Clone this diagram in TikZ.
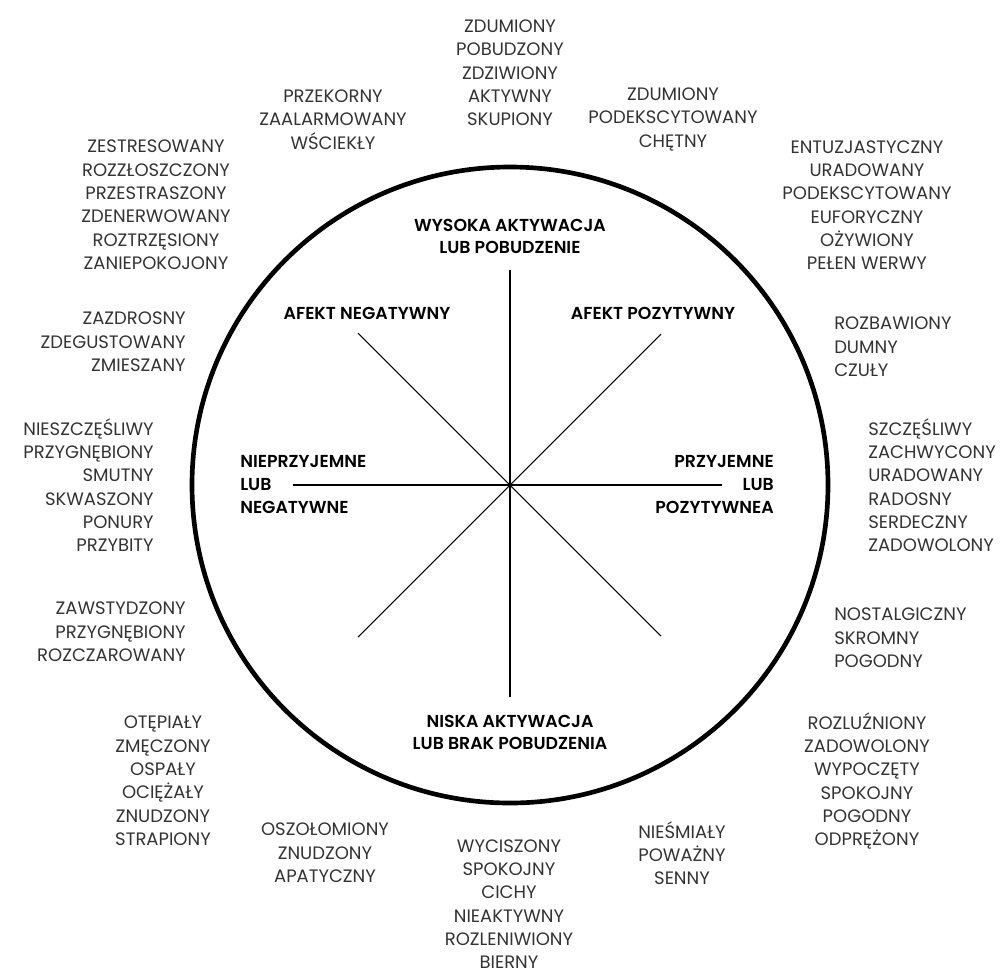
\documentclass[tikz,border=0pt]{standalone}
\usepackage{fontspec}
\setmainfont{Poppins}[BoldFont={Poppins SemiBold}]
\begin{document}
\begin{tikzpicture}[x=0.75pt,y=-0.75pt,
        word/.style={text=black!80,align=center,inner sep=0pt,font=\fontsize{13.5}{17.5}\selectfont},
        axislabel/.style={text=black,align=center,inner sep=0pt,font=\bfseries\fontsize{13}{17}\selectfont},
        axis/.style={line width=1.5pt},
        diag/.style={line width=0.8pt}]
    \useasboundingbox (0,0) rectangle (1008,976);
    \node[draw,circle,line width=3.5pt,minimum size=477pt,inner sep=0pt] (ring) at (510,485) {};
    \coordinate (hi) at (510,270);
    \coordinate (lo) at (510,697);
    \coordinate (lt) at (293,485);
    \coordinate (rt) at (722,485);
    \coordinate (ul) at (358,333);
    \coordinate (ur) at (661,334);
    \coordinate (ll) at (358,637);
    \coordinate (lr) at (661,636);
    \draw[axis] (hi) -- (lo);
    \draw[axis] (lt) -- (rt);
    \draw[diag] (ul) -- (lr);
    \draw[diag] (ur) -- (ll);
    \node[axislabel] (high) at (510,236.5) {WYSOKA AKTYWACJA\\LUB POBUDZENIE};
    \node[axislabel] (low) at (510,732.5) {NISKA AKTYWACJA\\LUB BRAK POBUDZENIA};
    \node[axislabel] (negaff) at (367,313) {AFEKT NEGATYWNY};
    \node[axislabel] (posaff) at (653,313) {AFEKT POZYTYWNY};
    \node[axislabel,align=left,anchor=west] (neg) at (240,484.5) {NIEPRZYJEMNE\\LUB\\NEGATYWNE};
    \node[axislabel,align=right,anchor=east] (pos) at (774,484.5) {PRZYJEMNE\\LUB\\POZYTYWNEA};
    \node[word] (alert) at (510,73) {ZDUMIONY\\POBUDZONY\\ZDZIWIONY\\AKTYWNY\\SKUPIONY};
    \node[word] (angry) at (333,119.5) {PRZEKORNY\\ZAALARMOWANY\\WŚCIEKŁY};
    \node[word] (eager) at (673,119.5) {ZDUMIONY\\PODEKSCYTOWANY\\CHĘTNY};
    \node[word] (stressed) at (156,205) {ZESTRESOWANY\\ROZZŁOSZCZONY\\PRZESTRASZONY\\ZDENERWOWANY\\ROZTRZĘSIONY\\ZANIEPOKOJONY};
    \node[word] (excited) at (867,205) {ENTUZJASTYCZNY\\URADOWANY\\PODEKSCYTOWANY\\EUFORYCZNY\\OŻYWIONY\\PEŁEN WERWY};
    \node[word,align=right,anchor=east] (jealous) at (186,342) {ZAZDROSNY\\ZDEGUSTOWANY\\ZMIESZANY};
    \node[word,align=left,anchor=west] (amused) at (834,347) {ROZBAWIONY\\DUMNY\\CZUŁY};
    \node[word,align=right,anchor=east] (sad) at (154,485) {NIESZCZĘŚLIWY\\PRZYGNĘBIONY\\SMUTNY\\SKWASZONY\\PONURY\\PRZYBITY};
    \node[word,align=left,anchor=west] (happy) at (868,485) {SZCZĘŚLIWY\\ZACHWYCONY\\URADOWANY\\RADOSNY\\SERDECZNY\\ZADOWOLONY};
    \node[word,align=right,anchor=east] (ashamed) at (186,632) {ZAWSTYDZONY\\PRZYGNĘBIONY\\ROZCZAROWANY};
    \node[word,align=left,anchor=west] (nostalgic) at (834,638) {NOSTALGICZNY\\SKROMNY\\POGODNY};
    \node[word] (tired) at (163,781) {OTĘPIAŁY\\ZMĘCZONY\\OSPAŁY\\OCIĘŻAŁY\\ZNUDZONY\\STRAPIONY};
    \node[word] (relaxed) at (867,781) {ROZLUŹNIONY\\ZADOWOLONY\\WYPOCZĘTY\\SPOKOJNY\\POGODNY\\ODPRĘŻONY};
    \node[word] (dazed) at (325,853) {OSZOŁOMIONY\\ZNUDZONY\\APATYCZNY};
    \node[word] (shy) at (682,853) {NIEŚMIAŁY\\POWAŻNY\\SENNY};
    \node[word] (calm) at (509,904) {WYCISZONY\\SPOKOJNY\\CICHY\\NIEAKTYWNY\\ROZLENIWIONY\\BIERNY};
\end{tikzpicture}
\end{document}
